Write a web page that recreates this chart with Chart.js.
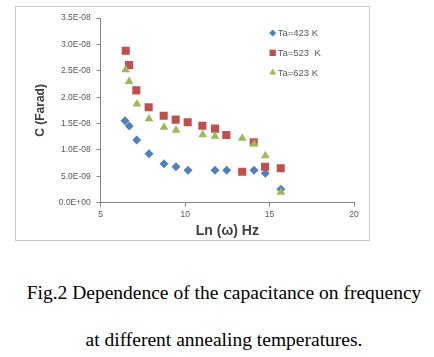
<!DOCTYPE html>
<html><head><meta charset="utf-8">
<script src="https://cdn.jsdelivr.net/npm/chart.js@4/dist/chart.umd.min.js"></script>
<style>
html,body{margin:0;padding:0;background:#fff;width:434px;height:357px;overflow:hidden;}
#box{position:absolute;left:15px;top:6px;width:353px;height:233px;border:1px solid #c8c8c8;}
canvas{display:block;}
.cap{position:absolute;left:0;width:448px;text-align:center;font-family:"Liberation Serif","Times New Roman",serif;font-size:19.5px;color:#000;white-space:nowrap;line-height:22px;}
</style></head><body>
<div id="box"><canvas id="c" width="353" height="233"></canvas></div>
<div class="cap" style="top:282px">Fig.2 Dependence of the capacitance on frequency</div>
<div class="cap" style="top:329px">at different annealing temperatures.</div>
<script>
// ---- data ----
const seriesLabels = ["Ta=423 K", "Ta=523  K", "Ta=623 K"];
const x423 = [6.44, 6.69, 7.13, 7.86, 8.75, 9.46, 10.17, 11.77, 12.46, 14.08, 14.75, 15.67];
const c423 = [1.556e-8, 1.456e-8, 1.19e-8, 0.93e-8, 0.74e-8, 0.683e-8, 0.615e-8, 0.615e-8, 0.615e-8, 0.615e-8, 0.558e-8, 0.254e-8];
const x523 = [6.48, 6.68, 7.11, 7.84, 8.73, 9.44, 10.15, 11.02, 11.77, 12.44, 13.38, 14.06, 14.73, 15.66];
const c523 = [2.88e-8, 2.61e-8, 2.13e-8, 1.81e-8, 1.65e-8, 1.575e-8, 1.526e-8, 1.46e-8, 1.405e-8, 1.285e-8, 0.588e-8, 1.146e-8, 0.683e-8, 0.653e-8];
const x623 = [6.48, 6.68, 7.15, 7.86, 8.75, 9.46, 11.04, 11.77, 13.38, 14.08, 14.75, 15.67];
const c623 = [2.52e-8, 2.30e-8, 1.87e-8, 1.59e-8, 1.43e-8, 1.374e-8, 1.29e-8, 1.26e-8, 1.22e-8, 1.114e-8, 0.892e-8, 0.197e-8];
const xTicks = [5, 10, 15, 20];
const yMax = 3.5e-8, yStep = 5e-9;

const toPts = (xs, ys) => xs.map((x, i) => ({x: x, y: ys[i]}));
const fmtExcel = v => {
  if (Math.abs(v) < 1e-20) return "0.0E+00";
  const s = v.toExponential(1);
  const [m, e] = s.split("e");
  const n = parseInt(e, 10);
  const sign = n < 0 ? "-" : "+";
  const a = Math.abs(n);
  return m + "E" + sign + (a < 10 ? "0" + a : a);
};

const tickFont = {family: "'Liberation Sans', Arial, sans-serif", size: 8.5};
const legendPlugin = {
  id: 'insideLegend',
  afterDatasetsDraw(chart) {
    const ctx = chart.ctx, a = chart.chartArea;
    chart.data.datasets.forEach((ds, i) => {
      const x = a.left + 172, y = a.top + 15 + i * 19.7;
      ctx.save();
      ctx.fillStyle = ds.backgroundColor;
      Chart.helpers.drawPoint(ctx, {pointStyle: ds.pointStyle, radius: ds.legendRadius, rotation: 0, borderWidth: 0}, x, y);
      ctx.fillStyle = '#595959';
      ctx.font = "9.5px 'Liberation Sans', Arial, sans-serif";
      ctx.textBaseline = 'middle';
      ctx.textAlign = 'left';
      ctx.fillText(ds.label, x + 5, y + 0.5);
      ctx.restore();
    });
  }
};

new Chart(document.getElementById('c'), {
  type: 'scatter',
  data: {
    datasets: [
      {label: seriesLabels[0], data: toPts(x423, c423), pointStyle: 'rectRot', pointRadius: 4.5, legendRadius: 3.5,
       backgroundColor: '#4F81BD', borderWidth: 0, order: 2},
      {label: seriesLabels[1], data: toPts(x523, c523), pointStyle: 'rect', pointRadius: 5.7, legendRadius: 4.5,
       backgroundColor: '#C0504D', borderWidth: 0, order: 1},
      {label: seriesLabels[2], data: toPts(x623, c623), pointStyle: 'triangle', pointRadius: 5, legendRadius: 4,
       backgroundColor: '#9BBB59', borderWidth: 0, order: 0}
    ]
  },
  options: {
    responsive: false,
    animation: false,
    devicePixelRatio: 1,
    layout: {padding: {left: 0, right: 15, top: 11, bottom: 0}},
    plugins: {legend: {display: false}, tooltip: {enabled: false}},
    elements: {point: {hoverRadius: 5}},
    scales: {
      x: {
        type: 'linear', min: 5, max: 20,
        afterBuildTicks: s => { s.ticks = xTicks.map(v => ({value: v})); },
        afterFit: s => { s.height = 37.3; },
        grid: {display: true, drawOnChartArea: false, drawTicks: true, tickLength: 4, color: '#868686'},
        border: {color: '#868686', width: 1},
        ticks: {font: tickFont, color: '#595959', padding: 3, maxRotation: 0},
        title: {display: true, text: 'Ln (ω) Hz', color: '#404040',
                font: {family: "'Liberation Sans', Arial, sans-serif", size: 14, weight: 'bold'}, padding: {top: 0, bottom: 0}}
      },
      y: {
        type: 'linear', min: 0, max: yMax,
        ticks: {stepSize: yStep, font: tickFont, color: '#595959', padding: 6, callback: v => fmtExcel(v)},
        afterFit: s => { s.width = 84.7; },
        grid: {display: true, drawOnChartArea: false, drawTicks: true, tickLength: 4, color: '#868686'},
        border: {color: '#868686', width: 1},
        title: {display: true, text: 'C (Farad)', color: '#404040',
                font: {family: "'Liberation Sans', Arial, sans-serif", size: 12, weight: 'bold'}, padding: {top: 17, bottom: 0}}
      }
    }
  },
  plugins: [legendPlugin]
});
</script>
</body></html>
